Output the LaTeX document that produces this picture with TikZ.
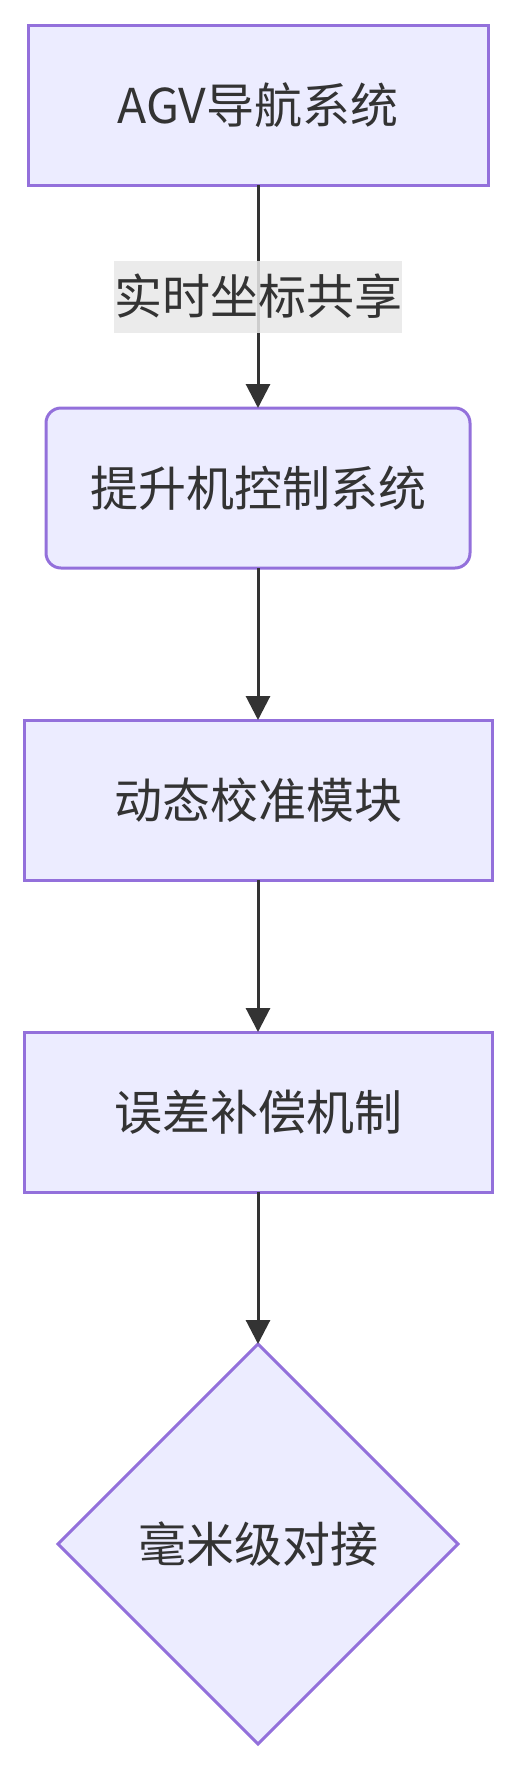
\documentclass[tikz,border=0pt]{standalone}
\usepackage{fontspec}
\setmainfont{Noto Sans CJK SC}
\usetikzlibrary{arrows.meta,shapes.geometric}

\definecolor{boxfill}{HTML}{ECECFF}
\definecolor{boxline}{HTML}{9370DB}
\definecolor{ink}{HTML}{333333}
\definecolor{lblfill}{HTML}{E8E8E8}

\tikzset{
  stepbox/.style={draw=boxline, fill=boxfill, line width=3pt, text=ink,
    minimum width=468pt, minimum height=160pt, inner sep=0pt, outer sep=0pt,
    font=\fontsize{48}{58}\selectfont},
  roundbox/.style={stepbox, rounded corners=15pt, minimum width=424pt},
  checkbox/.style={stepbox, diamond, aspect=1, minimum width=400pt, minimum height=400pt},
  flow/.style={draw=ink, line width=3pt, -{Triangle[length=24pt,width=24pt]}},
  edgelbl/.style={fill=lblfill, fill opacity=0.85, text opacity=1, text=ink,
    inner xsep=0pt, inner ysep=0pt, minimum height=72pt,
    font=\fontsize{48}{58}\selectfont}
}

\begin{document}
\begin{tikzpicture}[x=1pt, y=-1pt]
    \useasboundingbox (0,0) rectangle (516,1770);

    \node[stepbox, minimum width=460pt] (agv) at (258,105) {AGV导航系统};
    \node[roundbox] (lift) at (258,488) {提升机控制系统};
    \node[stepbox] (calib) at (258,800) {动态校准模块};
    \node[stepbox] (comp) at (258,1112) {误差补偿机制};
    \node[checkbox] (dock) at (258,1544) {毫米级对接};

    %%%%%%%%%%%%%%%%%%%%%%%%%%%%%%%%%%%%

    \draw[flow] (agv) -- node[edgelbl] (share) {实时坐标共享} (lift);
    \draw[flow] (lift) -- (calib);
    \draw[flow] (calib) -- (comp);
    \draw[flow] (comp) -- (dock);

\end{tikzpicture}
\end{document}
